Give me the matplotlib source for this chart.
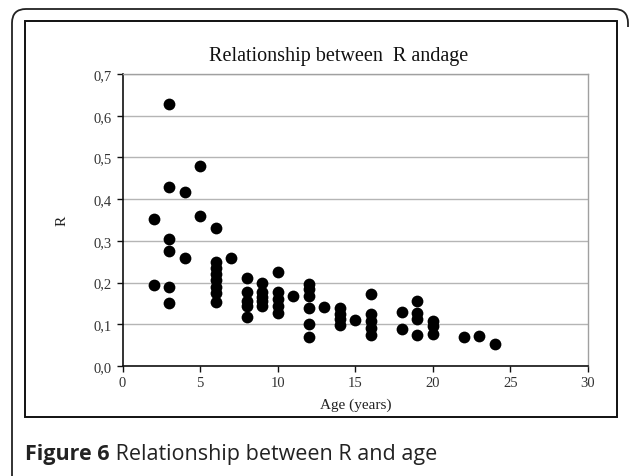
import matplotlib.pyplot as plt
from matplotlib.patches import Rectangle
from matplotlib.path import Path
from matplotlib.patches import PathPatch
from matplotlib.ticker import FuncFormatter

# ---- data ----
age = [2, 2,
       3, 3, 3, 3, 3, 3,
       4, 4,
       5, 5,
       6, 6, 6, 6, 6, 6, 6, 6,
       7,
       8, 8, 8, 8, 8,
       9, 9, 9, 9, 9,
       10, 10, 10, 10, 10,
       11,
       12, 12, 12, 12, 12, 12,
       13,
       14, 14, 14, 14,
       15,
       16, 16, 16, 16, 16,
       18, 18,
       19, 19, 19, 19,
       20, 20, 20,
       22, 23, 24]
r_val = [0.353, 0.193,
         0.627, 0.43, 0.305, 0.276, 0.189, 0.150,
         0.418, 0.258,
         0.48, 0.360,
         0.330, 0.250, 0.235, 0.220, 0.205, 0.190, 0.175, 0.154,
         0.258,
         0.21, 0.177, 0.157, 0.143, 0.118,
         0.20, 0.178, 0.165, 0.155, 0.145,
         0.225, 0.178, 0.161, 0.145, 0.126,
         0.169,
         0.197, 0.185, 0.169, 0.139, 0.10, 0.069,
         0.141,
         0.14, 0.125, 0.112, 0.098,
         0.111,
         0.172, 0.125, 0.109, 0.090, 0.074,
         0.130, 0.089,
         0.155, 0.127, 0.113, 0.074,
         0.109, 0.095, 0.077,
         0.069, 0.071, 0.053]

title = 'Relationship between  R andage'
caption_bold = 'Figure 6'
caption_rest = ' Relationship between R and age'

W, H = 635, 477
fig = plt.figure(figsize=(W / 100, H / 100), dpi=100)

# outer frame (rounded top corners, open bottom)
r = 14
verts = [(12, H), (12, 10 + r), (12, 10), (12 + r, 10),
         (628 - r, 10), (628, 10), (628, 10 + r), (628, 10 + r + 4)]
codes = [Path.MOVETO, Path.LINETO, Path.CURVE3, Path.CURVE3,
         Path.LINETO, Path.CURVE3, Path.CURVE3, Path.LINETO]
verts = [(x / W, 1 - y / H) for x, y in verts]
fig.patches.append(PathPatch(Path(verts, codes), transform=fig.transFigure,
                             fill=False, lw=1.3, edgecolor='#222222', zorder=-3))

# inner chart box
fig.patches.append(Rectangle((25 / W + 0.002, 1 - 418 / H - 0.003), 592 / W, 396 / H,
                             transform=fig.transFigure, fill=True,
                             facecolor='#cccccc', edgecolor='none', zorder=-2))
fig.patches.append(Rectangle((25 / W, 1 - 418 / H), 592 / W, 396 / H,
                             transform=fig.transFigure, facecolor='white',
                             edgecolor='#111111', lw=1.4, zorder=-1))

ax = fig.add_axes([122.5 / W, 1 - 367 / H, (588 - 122.5) / W, (367 - 75) / H])
ax.set_zorder(2)
ax.scatter(age, r_val, s=72, color='black', zorder=3, linewidths=0)

ax.set_xlim(0, 30)
ax.set_ylim(0, 0.7)
ax.set_xticks(range(0, 31, 5))
ax.set_yticks([i / 10 for i in range(8)])
ax.yaxis.set_major_formatter(FuncFormatter(lambda v, p: f'{v:.1f}'.replace('.', ',')))
ax.grid(axis='y', color='#b5b5b5', lw=1)
ax.set_axisbelow(True)

for s in ['top', 'right']:
    ax.spines[s].set_color('#a0a0a0')
    ax.spines[s].set_linewidth(1)
for s in ['left', 'bottom']:
    ax.spines[s].set_color('#111111')
    ax.spines[s].set_linewidth(1.2)

serif = 'Liberation Serif'
ax.tick_params(direction='out', length=4, width=1, colors='#111111',
               labelcolor='#333333', labelsize=10.5)
for lab in ax.get_xticklabels() + ax.get_yticklabels():
    lab.set_family(serif)

ax.set_xlabel('Age (years)', family=serif, fontsize=11, color='#222222', labelpad=6)
ax.set_ylabel('R', family=serif, fontsize=11, color='#222222', labelpad=18)
fig.text(339 / W, 1 - 56 / H, title, family=serif, fontsize=14.5, color='#111111',
         ha='center', va='center')

t = fig.text(25 / W, 1 - 455 / H, caption_bold, family='Open Sans', fontsize=15.5,
             weight='bold', color='#222222', va='center')
fig.canvas.draw()
bb = t.get_window_extent()
fig.text(bb.x1 / W, 1 - 455 / H, caption_rest, family='Open Sans', fontsize=15.5,
         color='#222222', va='center')

fig.savefig('out.png', dpi=100)
